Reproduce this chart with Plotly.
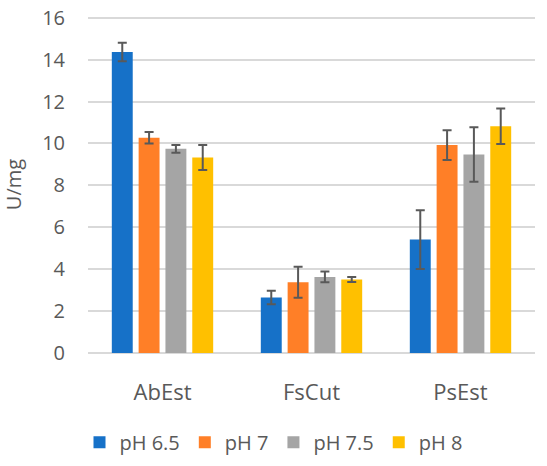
import plotly.graph_objects as go

categories = ["AbEst", "FsCut", "PsEst"]
series_names = ["pH 6.5", "pH 7", "pH 7.5", "pH 8"]
values = [
    [14.36, 2.65, 5.41],
    [10.27, 3.38, 9.92],
    [9.74, 3.63, 9.47],
    [9.33, 3.51, 10.82],
]
errors = [
    [0.44, 0.32, 1.40],
    [0.27, 0.74, 0.71],
    [0.18, 0.26, 1.30],
    [0.60, 0.12, 0.85],
]
colors = ["#1671C8", "#FF7F27", "#A5A5A5", "#FFC000"]

TEXT = "#595959"
FONT = "Open Sans, Segoe UI, sans-serif"

fig = go.Figure()
for name, vals, errs, col in zip(series_names, values, errors, colors):
    fig.add_trace(go.Bar(
        x=categories,
        y=vals,
        name=name,
        marker=dict(color=col, line=dict(width=0)),
        error_y=dict(type="data", array=errs, visible=True,
                     color="#595959", thickness=2, width=4.5),
    ))

fig.update_layout(
    width=547,
    height=466,
    barmode="group",
    bargap=0.28,
    bargroupgap=0.22,
    paper_bgcolor="white",
    plot_bgcolor="white",
    font=dict(family=FONT, size=20, color=TEXT),
    margin=dict(l=88, r=12, t=16, b=113, autoexpand=False),
    legend=dict(orientation="h", xref="container", x=0.5, xanchor="center",
                y=-0.265, yanchor="middle", font=dict(size=20, color=TEXT),
                itemwidth=30, traceorder="normal"),
    showlegend=True,
)
# range runs a touch past 16 so the top grid line is kept
fig.update_yaxes(
    range=[0, 16.08], tick0=0, dtick=2, showgrid=True,
    gridcolor="#D9D9D9", gridwidth=1.5,
    zeroline=True, zerolinecolor="#D9D9D9", zerolinewidth=1.5,
    title=dict(text="U/mg", font=dict(size=20, color=TEXT), standoff=26),
    tickfont=dict(size=20, color=TEXT), ticks="", showline=False,
    ticklabelstandoff=22, ticklabeloverflow="allow",
)
fig.update_xaxes(
    showline=False, ticks="", tickfont=dict(size=22, color=TEXT),
    ticklabelstandoff=24,
)

# drop the default 8px body margin so the figure fills the window
fig.write_html("out.html", config={"displayModeBar": False},
               post_script="document.body.style.margin='0';")
